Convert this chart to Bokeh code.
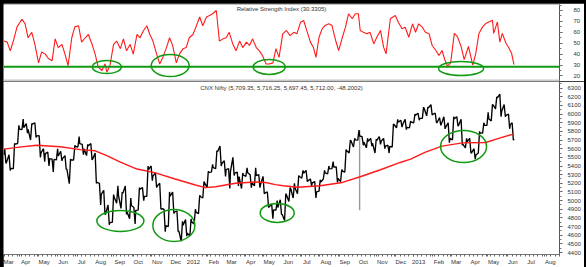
import pandas as pd
from datetime import datetime
from bokeh.plotting import figure
from bokeh.models import Range1d, FixedTicker, SingleIntervalTicker, Span, Label
from bokeh.layouts import column
from bokeh.embed import file_html
from bokeh.resources import INLINE

# ---------------- data ----------------
# Weekly CNX Nifty bars: week ending date, high, low, close
week_end = [
    "2011-03-11", "2011-03-18", "2011-03-25", "2011-04-01", "2011-04-08", "2011-04-15", "2011-04-22", "2011-04-29",
    "2011-05-06", "2011-05-13", "2011-05-20", "2011-05-27", "2011-06-03", "2011-06-10", "2011-06-17", "2011-06-24",
    "2011-07-01", "2011-07-08", "2011-07-15", "2011-07-22", "2011-07-29", "2011-08-05", "2011-08-12", "2011-08-19",
    "2011-08-26", "2011-09-02", "2011-09-09", "2011-09-16", "2011-09-23", "2011-09-30", "2011-10-07", "2011-10-14",
    "2011-10-21", "2011-10-28", "2011-11-04", "2011-11-11", "2011-11-18", "2011-11-25", "2011-12-02", "2011-12-09",
    "2011-12-16", "2011-12-23", "2011-12-30",
    "2012-01-06", "2012-01-13", "2012-01-20", "2012-01-27", "2012-02-03", "2012-02-10", "2012-02-17", "2012-02-24",
    "2012-03-02", "2012-03-09", "2012-03-16", "2012-03-23", "2012-03-30", "2012-04-06", "2012-04-13", "2012-04-20",
    "2012-04-27", "2012-05-04", "2012-05-11", "2012-05-18", "2012-05-25", "2012-06-01", "2012-06-08", "2012-06-15",
    "2012-06-22", "2012-06-29", "2012-07-06", "2012-07-13", "2012-07-20", "2012-07-27", "2012-08-03", "2012-08-10",
    "2012-08-17", "2012-08-24", "2012-08-31", "2012-09-07", "2012-09-14", "2012-09-21", "2012-09-28", "2012-10-05",
    "2012-10-12", "2012-10-19", "2012-10-26", "2012-11-02", "2012-11-09", "2012-11-16", "2012-11-23", "2012-11-30",
    "2012-12-07", "2012-12-14", "2012-12-21", "2012-12-28",
    "2013-01-04", "2013-01-11", "2013-01-18", "2013-01-25", "2013-02-01", "2013-02-08", "2013-02-15", "2013-02-22",
    "2013-03-01", "2013-03-08", "2013-03-15", "2013-03-22", "2013-03-29", "2013-04-05", "2013-04-12", "2013-04-19",
    "2013-04-26", "2013-05-03", "2013-05-10", "2013-05-17", "2013-05-24", "2013-05-31", "2013-06-07", "2013-06-13",
]
wk_high = [
    5600, 5530, 5660, 5870, 5944, 5890, 5890, 5900,
    5750, 5600, 5560, 5480, 5600, 5570, 5520, 5480,
    5640, 5740, 5650, 5650, 5660, 5550, 5200, 5120,
    4950, 5070, 5170, 5100, 5170, 5030, 4920, 5150,
    5150, 5400, 5400, 5320, 5200, 4900, 5100, 5100,
    4880, 4760, 4780,
    4790, 4900, 5060, 5220, 5340, 5420, 5580, 5630,
    5460, 5370, 5500, 5330, 5320, 5380, 5300, 5380,
    5300, 5280, 5100, 4960, 5000, 5010, 5080, 5150,
    5200, 5290, 5350, 5350, 5250, 5220, 5240, 5350,
    5400, 5450, 5390, 5360, 5590, 5700, 5720, 5815,
    5740, 5720, 5720, 5710, 5740, 5720, 5640, 5885,
    5940, 5930, 5940, 5920,
    6000, 6010, 6080, 6080, 6110, 6010, 5960, 5970,
    5900, 5970, 5970, 5940, 5720, 5720, 5600, 5800,
    5900, 6020, 6110, 6200, 6230, 6110, 6000, 5900,
]
wk_low = [
    5430, 5348, 5370, 5660, 5820, 5780, 5700, 5730,
    5500, 5450, 5400, 5330, 5470, 5460, 5360, 5195,
    5470, 5620, 5530, 5520, 5470, 5200, 4950, 4840,
    4720, 4750, 4970, 4910, 4840, 4790, 4730, 4890,
    5000, 5050, 5230, 5150, 4900, 4640, 4700, 4850,
    4640, 4530, 4590,
    4590, 4730, 4850, 5030, 5150, 5330, 5370, 5400,
    5280, 5140, 5290, 5170, 5140, 5280, 5150, 5170,
    5150, 5080, 4920, 4790, 4890, 4840, 4770, 4990,
    5030, 5080, 5260, 5220, 5170, 5030, 5110, 5250,
    5310, 5370, 5210, 5220, 5330, 5550, 5620, 5700,
    5640, 5610, 5630, 5550, 5650, 5600, 5550, 5620,
    5840, 5850, 5820, 5840,
    5900, 5930, 5950, 5980, 5990, 5900, 5870, 5830,
    5670, 5700, 5860, 5640, 5610, 5550, 5480, 5550,
    5780, 5870, 5920, 6060, 5970, 5970, 5830, 5697,
]
wk_close = [
    5445, 5373, 5654, 5826, 5842, 5824, 5884, 5749,
    5551, 5544, 5486, 5476, 5516, 5485, 5366, 5471,
    5627, 5660, 5599, 5633, 5482, 5211, 5072, 4845,
    4747, 5040, 5059, 5084, 4868, 4943, 4888, 5132,
    5049, 5360, 5284, 5169, 4906, 4710, 5050, 4866,
    4651, 4714, 4624,
    4754, 4867, 5048, 5205, 5326, 5381, 5564, 5429,
    5359, 5334, 5318, 5278, 5296, 5323, 5207, 5290,
    5190, 5087, 4928, 4892, 4920, 4842, 5068, 5139,
    5146, 5279, 5317, 5228, 5205, 5100, 5215, 5320,
    5366, 5387, 5258, 5342, 5577, 5691, 5703, 5747,
    5676, 5684, 5665, 5697, 5686, 5631, 5627, 5880,
    5907, 5879, 5847, 5908,
    5988, 5951, 6064, 6074, 5998, 5903, 5887, 5850,
    5719, 5945, 5872, 5651, 5682, 5553, 5528, 5783,
    5871, 5945, 6107, 6187, 6034, 5986, 5881, 5712,
]
first_open = 5530

# 5 Oct 2012 flash-crash bar (drawn grey in the reference)
crash_date = ["2012-10-05"]
crash_low = [4888]
crash_high = [5815]

# Moving average (red)
ma_dates = [
    "2011-03-07", "2011-03-28", "2011-04-29", "2011-06-06", "2011-07-09", "2011-08-02", "2011-08-21", "2011-09-12",
    "2011-10-09", "2011-11-08", "2011-12-10", "2012-01-12", "2012-01-28", "2012-02-14", "2012-03-17", "2012-04-18",
    "2012-05-05", "2012-05-21", "2012-06-03", "2012-06-26", "2012-08-02", "2012-09-07", "2012-10-06", "2012-11-08",
    "2012-12-10", "2012-12-27", "2013-01-20", "2013-02-16", "2013-03-21", "2013-04-28", "2013-05-19", "2013-06-10",
    "2013-06-13",
]
ma_values = [
    5595, 5615, 5640, 5622, 5590, 5576, 5520, 5445,
    5365, 5320, 5250, 5180, 5150, 5160, 5200, 5215,
    5210, 5185, 5172, 5155, 5172, 5210, 5276, 5357,
    5441, 5480, 5560, 5630, 5668, 5672, 5719, 5765,
    5772,
]

# RSI (14)
rsi_dates = [
    "2011-03-07", "2011-03-12", "2011-03-17", "2011-03-22", "2011-03-28", "2011-04-05", "2011-04-10", "2011-04-15",
    "2011-04-21", "2011-04-26", "2011-05-02", "2011-05-07", "2011-05-13", "2011-05-18", "2011-05-24", "2011-05-29",
    "2011-06-03", "2011-06-09", "2011-06-14", "2011-06-19", "2011-06-25", "2011-06-30", "2011-07-06", "2011-07-11",
    "2011-07-17", "2011-07-22", "2011-07-28", "2011-08-02", "2011-08-07", "2011-08-13", "2011-08-18", "2011-08-21",
    "2011-08-26", "2011-09-01", "2011-09-06", "2011-09-12", "2011-09-17", "2011-09-22", "2011-09-28", "2011-10-03",
    "2011-10-09", "2011-10-14", "2011-10-19", "2011-10-25", "2011-10-30", "2011-11-04", "2011-11-10", "2011-11-15",
    "2011-11-20", "2011-11-26", "2011-12-01", "2011-12-06", "2011-12-12", "2011-12-17", "2011-12-23", "2011-12-28",
    "2012-01-02", "2012-01-08", "2012-01-13", "2012-01-19", "2012-01-24", "2012-01-30", "2012-02-04", "2012-02-09",
    "2012-02-15", "2012-02-20", "2012-02-26", "2012-03-02", "2012-03-07", "2012-03-13", "2012-03-18", "2012-03-24",
    "2012-03-29", "2012-04-04", "2012-04-09", "2012-04-14", "2012-04-20", "2012-04-25", "2012-04-30", "2012-05-06",
    "2012-05-11", "2012-05-17", "2012-05-22", "2012-05-27", "2012-06-02", "2012-06-08", "2012-06-14", "2012-06-20",
    "2012-06-25", "2012-07-01", "2012-07-06", "2012-07-11", "2012-07-17", "2012-07-22", "2012-07-26", "2012-07-31",
    "2012-08-05", "2012-08-10", "2012-08-16", "2012-08-21", "2012-08-27", "2012-09-01", "2012-09-07", "2012-09-12",
    "2012-09-17", "2012-09-23", "2012-09-28", "2012-10-03", "2012-10-06", "2012-10-11", "2012-10-17", "2012-10-22",
    "2012-10-28", "2012-11-02", "2012-11-08", "2012-11-13", "2012-11-17", "2012-11-24", "2012-12-02", "2012-12-07",
    "2012-12-13", "2012-12-18", "2012-12-24", "2012-12-30", "2013-01-04", "2013-01-09", "2013-01-15", "2013-01-20",
    "2013-01-26", "2013-01-31", "2013-02-06", "2013-02-11", "2013-02-16", "2013-02-21", "2013-02-25", "2013-03-02",
    "2013-03-08", "2013-03-13", "2013-03-19", "2013-03-24", "2013-03-31", "2013-04-07", "2013-04-12", "2013-04-17",
    "2013-04-23", "2013-04-28", "2013-05-03", "2013-05-09", "2013-05-11", "2013-05-17", "2013-05-21", "2013-05-25",
    "2013-05-31", "2013-06-05", "2013-06-09", "2013-06-13",
]
rsi_values = [
    52, 51, 43, 52, 65, 72, 68, 55,
    60, 49, 32, 42, 40, 36, 34, 54,
    46, 49, 40, 29.5, 55, 65, 66, 51,
    55, 58, 49, 40, 28, 25, 31, 23.4,
    29.5, 49, 52, 45, 54, 43, 49, 40,
    58, 55, 61, 66, 58, 52, 40, 31,
    37, 46, 55, 48, 32, 40, 45, 46,
    55, 58, 65, 74, 66, 74, 75.4, 77,
    80, 52, 54, 55, 60, 49, 43, 52,
    46, 51, 48, 54, 46, 43, 38.7, 31,
    31, 32, 45, 37, 58.6, 61.7, 57, 60,
    58.6, 69.3, 70.8, 61.7, 51, 46, 37, 55.5,
    63.2, 66.3, 67.8, 66.3, 52.5, 43.3, 55.5, 64.7,
    77, 72.4, 77, 77, 61.7, 60, 58.6, 60,
    49.4, 55.5, 61.7, 46.4, 40.2, 72.4, 75.4, 69.3,
    63.2, 64.7, 55.5, 67.8, 60, 67.8, 64.7, 60,
    58.6, 47.9, 43.3, 38.7, 43.3, 34.1, 28.8, 32,
    59, 56, 47, 35, 47, 30, 41, 59,
    65, 68, 69.5, 71, 59, 69.5, 51, 59,
    50, 45.4, 40.9, 30.33,
]
rsi_oversold = 28.5

# Highlight ellipses (centre date, centre value; sizes in pixels)
rsi_ell_dates = ["2011-08-21", "2011-12-02", "2012-05-11", "2013-03-19"]
rsi_ell_values = [28.2, 29.5, 28.2, 26.8]
rsi_ell_w = [29, 38, 32, 45]
rsi_ell_h = [13, 22, 15, 14]

px_ell_dates = ["2011-09-12", "2011-12-08", "2012-05-24", "2013-03-23"]
px_ell_values = [4765, 4713, 4857, 5626]
px_ell_w = [47, 42, 34, 46]
px_ell_h = [21, 32, 19, 32]

rsi_title = "Relative Strength Index (30.3305)"
price_title = "CNX Nifty (5,709.35, 5,716.25, 5,697.45, 5,712.00, -48.2002)"

# ---------------- helpers ----------------
def ts(s):
    return pd.Timestamp(s)

def ms(t):
    return pd.Timestamp(t).value / 1e6

# Zig-zag path through each week's high/low/close, giving an OHLC-like band
zz_x = [ts(week_end[0]) - pd.Timedelta(days=4)]
zz_y = [first_open]
prev = first_open
for d, h, l, c in zip(week_end, wk_high, wk_low, wk_close):
    t = ts(d)
    a, b = (l, h) if c >= prev else (h, l)
    zz_x += [t - pd.Timedelta(days=3), t - pd.Timedelta(days=1), t]
    zz_y += [a, b, c]
    prev = c

FONT = "Liberation Sans"
TXT = "#333333"
GREEN = "#119a11"
RED = "#ff1a1a"

x_range = Range1d(datetime(2011, 3, 6), datetime(2013, 8, 26))

# ---------------- RSI panel ----------------
p1 = figure(frame_width=556, frame_height=77, x_range=x_range, y_range=Range1d(14.9, 85.5),
            x_axis_type="datetime", x_axis_location=None, y_axis_location="right",
            toolbar_location=None, output_backend="svg",
            min_border_left=0, min_border_right=25, min_border_top=1, min_border_bottom=0,
            margin=(3, 2, 0, 3), background_fill_color="white", border_fill_color="white")
p1.grid.visible = False
p1.outline_line_color = None
ya = p1.yaxis[0]
ya.ticker = SingleIntervalTicker(interval=10, num_minor_ticks=2)
ya.major_label_text_font = FONT
ya.major_label_text_font_size = "6px"
ya.major_label_text_color = TXT
ya.major_label_standoff = 11
ya.major_tick_in = 0
ya.major_tick_out = 3
ya.minor_tick_in = 0
ya.minor_tick_out = 2
ya.axis_line_color = "#555555"
ya.major_tick_line_color = "#555555"
ya.minor_tick_line_color = "#777777"

p1.add_layout(Span(location=rsi_oversold, dimension="width", line_color=GREEN, line_width=2))
p1.add_layout(Span(location=15.8, dimension="width", line_color="#c8c8c8", line_width=2))
p1.line([ts(d) for d in rsi_dates], rsi_values, line_color=RED, line_width=1.1)
p1.ellipse(x=[ts(d) for d in rsi_ell_dates], y=rsi_ell_values, width=rsi_ell_w, height=rsi_ell_h,
           width_units="screen", height_units="screen", fill_color=None,
           line_color=GREEN, line_width=1.5)
p1.add_layout(Label(x=ms("2012-05-31"), y=81.8, text=rsi_title, text_align="center",
                    text_baseline="middle", text_font=FONT, text_font_size="6px", text_color=TXT))

# ---------------- price panel ----------------
p2 = figure(frame_width=556, frame_height=173, x_range=x_range, y_range=Range1d(4377, 6377),
            x_axis_type="datetime", y_axis_location="right",
            toolbar_location=None, output_backend="svg",
            min_border_left=0, min_border_right=25, min_border_top=0, min_border_bottom=0,
            margin=(0, 2, 3, 3), background_fill_color="white", border_fill_color="white")
p2.grid.visible = False
p2.outline_line_color = None
ya2 = p2.yaxis[0]
ya2.ticker = SingleIntervalTicker(interval=100, num_minor_ticks=2)
ya2.major_label_text_font = FONT
ya2.major_label_text_font_size = "6px"
ya2.major_label_text_color = TXT
ya2.major_label_standoff = 5
ya2.major_tick_in = 0
ya2.major_tick_out = 3
ya2.minor_tick_in = 0
ya2.minor_tick_out = 2
ya2.axis_line_color = "#555555"
ya2.major_tick_line_color = "#555555"
ya2.minor_tick_line_color = "#777777"

# month axis: labels just right of each month start
months = pd.date_range("2011-03-01", "2013-08-01", freq="MS")
label_pos, overrides = [], {}
for m in months:
    off = 8 if m.month == 1 else 10
    pos = ms(m + pd.Timedelta(days=off))
    label_pos.append(pos)
    overrides[pos] = str(m.year) if m.month == 1 else m.strftime("%b")
weeks = pd.date_range("2011-03-07", "2013-08-26", freq="W-MON")
minor = sorted(set([ms(m) for m in months] + [ms(w) for w in weeks]))
xa = p2.xaxis[0]
xa.ticker = FixedTicker(ticks=label_pos, minor_ticks=minor)
xa.major_label_overrides = overrides
xa.major_label_text_font = FONT
xa.major_label_text_font_size = "6px"
xa.major_label_text_color = TXT
xa.major_label_standoff = 1
xa.major_tick_in = 0
xa.major_tick_out = 3
xa.major_tick_line_color = None
xa.minor_tick_in = 0
xa.minor_tick_out = 2
xa.minor_tick_line_color = "#666666"
xa.axis_line_color = "#777777"

p2.segment(x0=[ts(d) for d in crash_date], y0=crash_low, x1=[ts(d) for d in crash_date], y1=crash_high,
           line_color="#9a9a9a", line_width=1.4)
p2.line(zz_x, zz_y, line_color="black", line_width=1.35)
p2.line([ts(d) for d in ma_dates], ma_values, line_color=RED, line_width=1.4)
p2.ellipse(x=[ts(d) for d in px_ell_dates], y=px_ell_values, width=px_ell_w, height=px_ell_h,
           width_units="screen", height_units="screen", fill_color=None,
           line_color=GREEN, line_width=1.5)
p2.add_layout(Label(x=ms("2012-05-31"), y=6302, text=price_title, text_align="center",
                    text_baseline="middle", text_font=FONT, text_font_size="6px", text_color=TXT))

layout = column(p1, p2, styles={"background-color": "black"}, spacing=0)
open("out.html", "w").write(file_html(layout, INLINE))
